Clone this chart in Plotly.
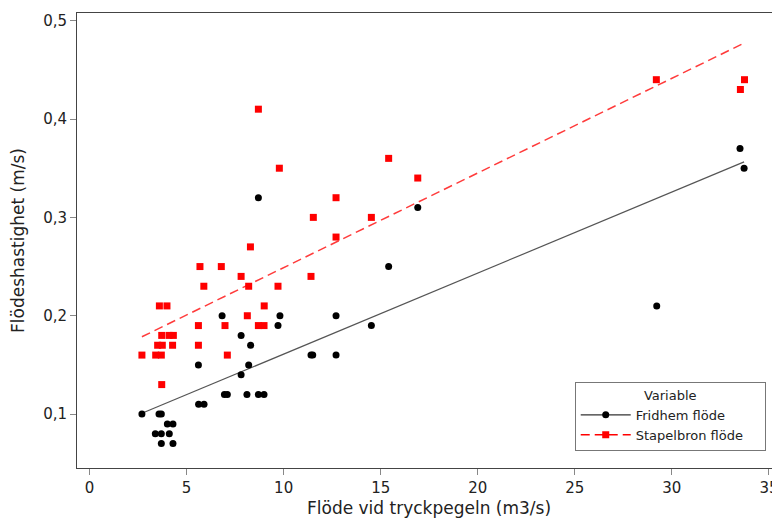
import numpy as np
import plotly.graph_objects as go

# Fridhem flöde (black circles)
fridhem_x = [2.7, 3.39, 3.58, 3.70, 3.70, 3.70, 4.01, 4.11, 4.30, 4.30,
             5.61, 5.62, 5.90, 6.83, 6.95, 7.10, 7.81, 7.81, 8.11, 8.20,
             8.30, 8.70, 8.70, 8.99, 9.71, 9.81, 11.41, 11.50, 12.70, 12.70,
             14.52, 15.41, 16.91, 29.22, 33.51, 33.72]
fridhem_y = [0.10, 0.08, 0.10, 0.10, 0.08, 0.07, 0.09, 0.08, 0.09, 0.07,
             0.15, 0.11, 0.11, 0.20, 0.12, 0.12, 0.18, 0.14, 0.12, 0.15,
             0.17, 0.32, 0.12, 0.12, 0.19, 0.20, 0.16, 0.16, 0.20, 0.16,
             0.19, 0.25, 0.31, 0.21, 0.37, 0.35]

# Stapelbron flöde (red squares)
stapel_x = [2.70, 3.41, 3.51, 3.60, 3.70, 3.72, 3.75, 3.72, 3.99, 4.10,
            4.28, 4.32, 5.61, 5.61, 5.69, 5.89, 6.79, 6.98, 7.10, 7.81,
            8.13, 8.20, 8.29, 8.70, 8.70, 8.99, 9.00, 9.71, 9.78, 11.41,
            11.53, 12.70, 12.70, 14.52, 15.41, 16.91, 29.20, 33.53, 33.74]
stapel_y = [0.16, 0.16, 0.17, 0.21, 0.16, 0.18, 0.17, 0.13, 0.21, 0.18,
            0.17, 0.18, 0.19, 0.17, 0.25, 0.23, 0.25, 0.19, 0.16, 0.24,
            0.20, 0.23, 0.27, 0.41, 0.19, 0.19, 0.21, 0.23, 0.35, 0.24,
            0.30, 0.32, 0.28, 0.30, 0.36, 0.34, 0.44, 0.43, 0.44]

x_ticks = [0, 5, 10, 15, 20, 25, 30, 35]
y_ticks = [0.1, 0.2, 0.3, 0.4, 0.5]

X_TITLE = "Flöde vid tryckpegeln (m3/s)"
Y_TITLE = "Flödeshastighet (m/s)"

FONT = "DejaVu Sans"
PAD = "\u00a0" * 4


def fit_line(xs, ys):
    b, a = np.polyfit(xs, ys, 1)
    xx = np.array([min(xs), max(xs)])
    return xx, a + b * xx


fig = go.Figure()

fx, fy = fit_line(fridhem_x, fridhem_y)
sx, sy = fit_line(stapel_x, stapel_y)

fig.add_trace(go.Scatter(x=fx, y=fy, mode="lines", showlegend=False,
                         line=dict(color="#555555", width=1.2)))
fig.add_trace(go.Scatter(x=sx, y=sy, mode="lines", showlegend=False,
                         line=dict(color="#ff3b3b", width=1.5, dash="9px,5px")))
fig.add_trace(go.Scatter(x=fridhem_x, y=fridhem_y, mode="markers", showlegend=False,
                         marker=dict(symbol="circle", size=7, color="black")))
fig.add_trace(go.Scatter(x=stapel_x, y=stapel_y, mode="markers", showlegend=False,
                         marker=dict(symbol="square", size=7, color="#ff0000")))

# legend-only entries
fig.add_trace(go.Scatter(x=[None], y=[None], mode="lines+markers", name="Fridhem flöde" + PAD,
                         line=dict(color="#333333", width=1.2),
                         marker=dict(symbol="circle", size=7, color="black")))
fig.add_trace(go.Scatter(x=[None], y=[None], mode="lines+markers", name="Stapelbron flöde" + PAD,
                         line=dict(color="#ff0000", width=1.5, dash="9px,5px"),
                         marker=dict(symbol="square", size=7, color="#ff0000")))

fig.update_layout(
    width=780, height=523,
    margin=dict(l=69, r=8, t=5, b=63),
    plot_bgcolor="white", paper_bgcolor="white",
    separators=",.",
    font=dict(family=FONT, size=15, color="#222222"),
    legend=dict(
        x=0.708, y=0.189, xanchor="left", yanchor="top",
        bordercolor="#777777", borderwidth=1, bgcolor="white",
        font=dict(size=13), itemwidth=50, tracegroupgap=0,
        title=dict(text="Variable", side="top center", font=dict(size=13)),
    ),
    annotations=[dict(
        text=X_TITLE, xref="paper", yref="paper", x=0.5, y=-0.088,
        xanchor="center", yanchor="middle", showarrow=False,
        font=dict(size=17, family=FONT, color="#222222"),
    )],
)

fig.update_xaxes(
    range=[-0.644, 35.57], tickvals=x_ticks, showgrid=False, zeroline=False,
    showline=True, linecolor="#444444", linewidth=1, mirror=True,
    ticks="outside", ticklen=6, tickcolor="#888888", automargin=False,
    tickfont=dict(size=15),
)
fig.update_yaxes(
    range=[0.0452, 0.5078], tickvals=y_ticks, tickformat=".1f", showgrid=False,
    zeroline=False, showline=True, linecolor="#444444", linewidth=1,
    ticks="outside", ticklen=6, tickcolor="#888888", automargin=False,
    title=dict(text=Y_TITLE, font=dict(size=17)),
    tickfont=dict(size=15),
)

fig.write_html("out.html")
